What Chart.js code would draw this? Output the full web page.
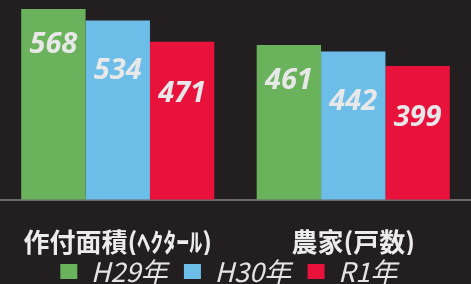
<!DOCTYPE html>
<html>
<head>
<meta charset="utf-8">
<script src="https://cdn.jsdelivr.net/npm/chart.js@4"></script>
<style>
    html, body { margin: 0; padding: 0; background: #231f20; }
    #wrap { width: 471px; height: 284px; }
</style>
</head>
<body>
<div id="wrap"><canvas id="farmChart"></canvas></div>
<script>
// Data
const categories = ['作付面積(ﾍｸﾀｰﾙ)', '農家(戸数)'];
const seriesNames = ['H29年', 'H30年', 'R1年'];
const h29Values = [568, 461];
const h30Values = [534, 442];
const r1Values = [471, 399];
const seriesColors = ['#6ab35c', '#6cbee9', '#e8123c'];

// label offset from the bar top, per series
const labelOffsets = [36, 50, 52];

const barLabels = {
    id: 'barLabels',
    afterDatasetsDraw(chart) {
        const ctx = chart.ctx;
        ctx.save();
        ctx.font = 'italic bold 29px "Open Sans"';
        ctx.fillStyle = '#e8e8e8';
        ctx.textAlign = 'center';
        ctx.textBaseline = 'middle';
        chart.data.datasets.forEach((ds, i) => {
            chart.getDatasetMeta(i).data.forEach((bar, j) => {
                ctx.fillText(ds.data[j], bar.x, bar.y + labelOffsets[i]);
            });
        });
        ctx.restore();
    }
};

const ctx = document.getElementById('farmChart').getContext('2d');
new Chart(ctx, {
    type: 'bar',
    data: {
        labels: categories,
        datasets: [
            { label: seriesNames[0], data: h29Values, backgroundColor: seriesColors[0] },
            { label: seriesNames[1], data: h30Values, backgroundColor: seriesColors[1] },
            { label: seriesNames[2], data: r1Values, backgroundColor: seriesColors[2] }
        ]
    },
    options: {
        responsive: true,
        maintainAspectRatio: false,
        animation: false,
        layout: { padding: 0 },
        datasets: {
            bar: { categoryPercentage: 0.82, barPercentage: 1.0, borderWidth: 0 }
        },
        plugins: {
            legend: {
                position: 'bottom',
                maxHeight: 29,
                labels: {
                    color: '#e4e4e4',
                    boxWidth: 17,
                    boxHeight: 15,
                    padding: 3,
                    font: { family: '"Noto Sans CJK JP"', size: 27, style: 'italic' },
                    // a little extra room after each entry
                    generateLabels: chart => Chart.defaults.plugins.legend.labels.generateLabels(chart)
                        .map(item => Object.assign(item, { text: item.text + '\u2002' }))
                }
            },
            tooltip: { enabled: false }
        },
        scales: {
            x: {
                grid: { display: false, drawTicks: false },
                border: { color: '#6b6869', width: 2 },
                ticks: {
                    color: '#ececec',
                    padding: 27,
                    font: { family: '"Noto Sans CJK JP"', size: 26, weight: 'bold' }
                },
                afterFit: scale => {
                    scale.height = 55;
                    scale.paddingLeft = 0;
                    scale.paddingRight = 0;
                }
            },
            y: {
                display: true,
                min: 0,
                max: 595,
                border: { display: false },
                grid: {
                    drawTicks: false,
                    color: c => c.tick && c.tick.value === 400 ? 'rgba(120,116,117,0.45)' : 'transparent'
                },
                ticks: { display: false, stepSize: 200 },
                afterFit: scale => {
                    scale.width = 0;
                }
            }
        }
    },
    plugins: [barLabels]
});
</script>
</body>
</html>
